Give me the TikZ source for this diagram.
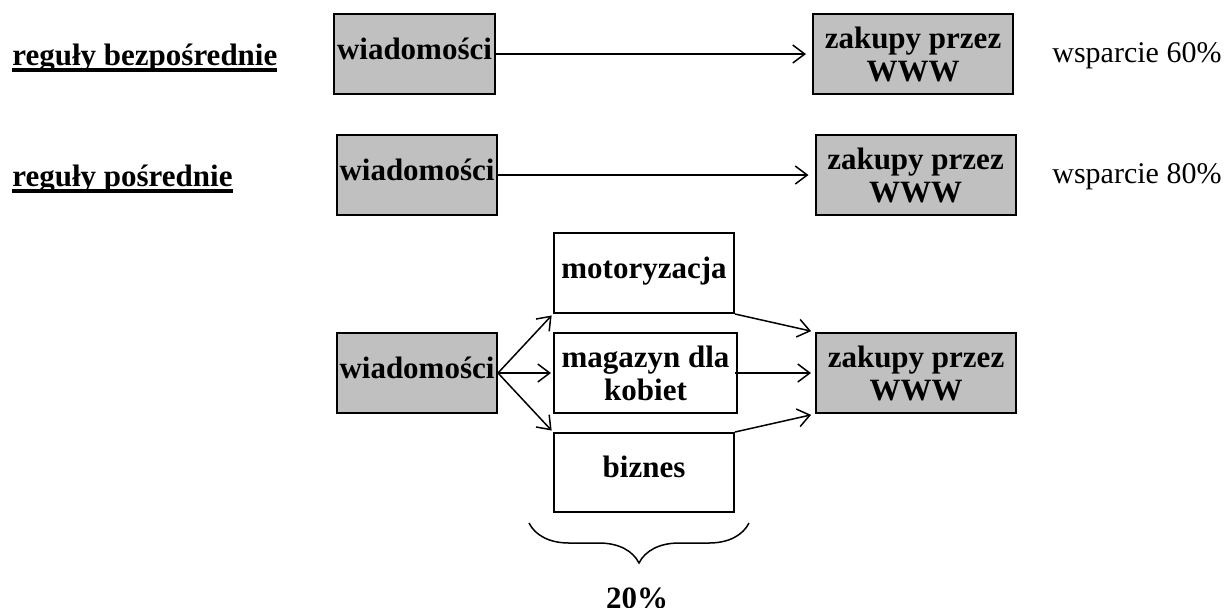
\documentclass[tikz,border=0pt]{standalone}
\usepackage{fontspec}
\setmainfont{Liberation Serif}
\usepackage{xcolor}
\usetikzlibrary{arrows.meta, decorations.pathreplacing}
\definecolor{boxgray}{RGB}{192,192,192}
\newcommand{\thickul}[1]{\setbox0\hbox{#1}\rlap{\rule[-3.5pt]{\wd0}{2pt}}\box0}

\begin{document}
\begin{tikzpicture}[x=0.5pt, y=-0.5pt,
    font=\fontsize{15.5}{16.5}\selectfont,
    greybox/.style={draw=black, fill=boxgray, line width=1pt, inner sep=0pt,
      minimum height=40pt, align=center, font=\fontsize{15.5}{16.5}\selectfont\bfseries},
    whitebox/.style={greybox, fill=white},
    oneline/.style={text height=11pt, text depth=6pt},
    rulelabel/.style={anchor=base west, inner sep=0pt, font=\fontsize{15.5}{16.5}\selectfont\bfseries},
    support/.style={anchor=base west, inner sep=0pt, font=\fontsize{15}{16}\selectfont},
    link/.style={->, >={Straight Barb[length=6pt, width=9pt]}, line width=0.75pt}]
      \useasboundingbox (0, 0) rectangle (1227, 607);

      % reguly bezposrednie
      \node[rulelabel] (r1) at (12, 65) {\thickul{reguły bezpośrednie}};
      \node[greybox, oneline, minimum width=80.5pt] (w1) at (414.5, 54) {wiadomości};
      \node[greybox, minimum width=100pt] (z1) at (913, 54) {zakupy przez\\WWW};
      \node[support] (s1) at (1052, 62) {wsparcie 60\%};
      \draw[link, shorten >=3pt] (w1.east) -- (z1.west);

      % reguly posrednie
      \node[rulelabel] (r2) at (12, 186) {\thickul{reguły pośrednie}};
      \node[greybox, oneline, minimum width=80pt] (w2) at (417, 175) {wiadomości};
      \node[greybox, minimum width=100pt] (z2) at (915.5, 175) {zakupy przez\\WWW};
      \node[support] (s2) at (1052, 183) {wsparcie 80\%};
      \draw[link, shorten >=3pt] (w2.east) -- (z2.west);

      % przez kategorie
      \node[greybox, oneline, minimum width=80pt] (w3) at (417, 373) {wiadomości};
      \node[whitebox, oneline, minimum width=90pt] (moto) at (644, 273) {motoryzacja};
      \node[whitebox, minimum width=91.5pt] (mag) at (645.5, 373) {magazyn dla\\kobiet};
      \node[whitebox, oneline, minimum width=90pt, minimum height=39.5pt] (biz) at (644, 472.5) {biznes};
      \node[greybox, minimum width=100pt] (z3) at (916, 373) {zakupy przez\\WWW};

      \draw[link, shorten >=1pt] (w3.east) -- (moto.south west);
      \draw[link, shorten >=1pt] (w3.east) -- (mag.west);
      \draw[link, shorten >=1pt] (w3.east) -- (biz.north west);
      \draw[link, shorten >=2pt] (moto.south east) -- (z3.north west);
      \draw[link, shorten >=2pt] ([xshift=-1.5pt]mag.east) -- (z3.west);
      \draw[link, shorten >=2pt] (biz.north east) -- (z3.south west);

      \draw[decorate, decoration={brace, amplitude=20pt}, line width=0.75pt] (749, 523) -- (529, 523);
      \node[anchor=base, inner sep=0pt, font=\fontsize{15.5}{16.5}\selectfont\bfseries] (pct) at (637, 608) {20\%};

    \end{tikzpicture}
\end{document}
